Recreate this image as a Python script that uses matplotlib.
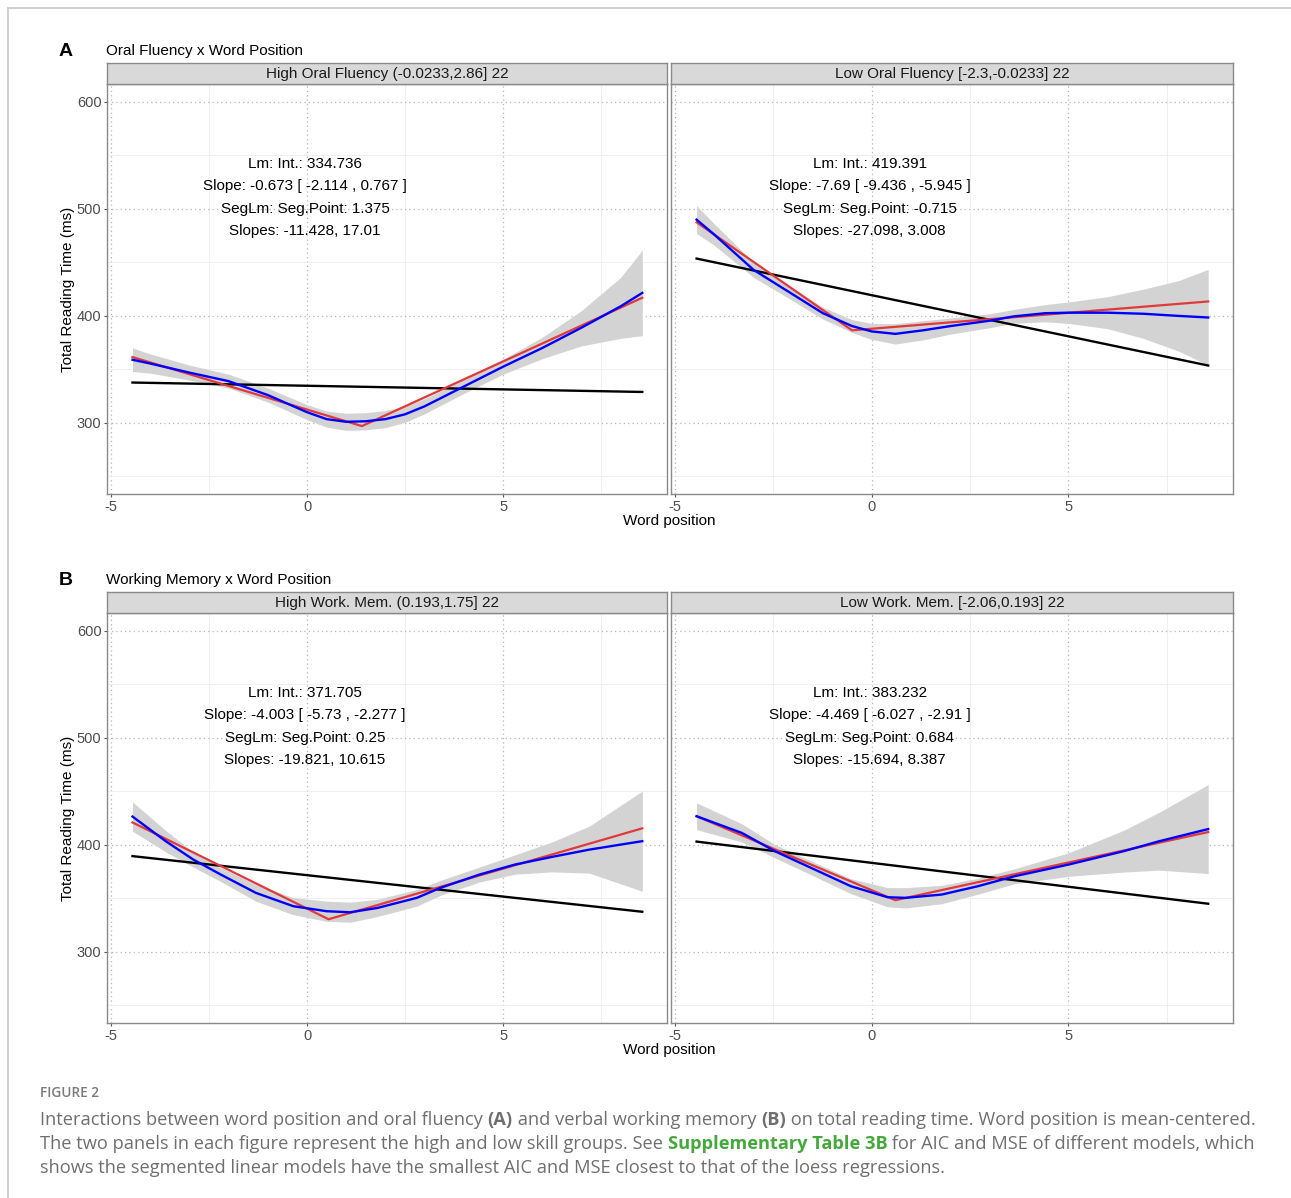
import matplotlib
matplotlib.use("Agg")
import matplotlib.pyplot as plt
from matplotlib.lines import Line2D
import numpy as np

W, H = 1291, 1198

# ---------------- data ----------------
panel_titles = ["Oral Fluency x Word Position", "Working Memory x Word Position"]
panel_letters = ["A", "B"]
strip_labels = [["High Oral Fluency (-0.0233,2.86] 22", "Low Oral Fluency [-2.3,-0.0233] 22"],
                ["High Work. Mem. (0.193,1.75] 22", "Low Work. Mem. [-2.06,0.193] 22"]]
annotations = [
    [["Lm: Int.: 334.736", "Slope: -0.673 [ -2.114 , 0.767 ]", "SegLm: Seg.Point: 1.375", "Slopes: -11.428, 17.01"],
     ["Lm: Int.: 419.391", "Slope: -7.69 [ -9.436 , -5.945 ]", "SegLm: Seg.Point: -0.715", "Slopes: -27.098, 3.008"]],
    [["Lm: Int.: 371.705", "Slope: -4.003 [ -5.73 , -2.277 ]", "SegLm: Seg.Point: 0.25", "Slopes: -19.821, 10.615"],
     ["Lm: Int.: 383.232", "Slope: -4.469 [ -6.027 , -2.91 ]", "SegLm: Seg.Point: 0.684", "Slopes: -15.694, 8.387"]],
]

# linear model endpoints
lm_x = [-4.45, 8.55]
lm_y_A_high = [337.7, 328.9]
lm_y_A_low = [453.6, 353.6]
lm_y_B_high = [389.5, 337.5]
lm_y_B_low = [403.1, 345.0]

# segmented model vertices
seg_x_A_high = [-4.45, 1.4, 8.55]
seg_y_A_high = [361.5, 297.0, 417.0]
seg_x_A_low = [-4.45, -0.5, 8.55]
seg_y_A_low = [487.5, 386.5, 413.5]
seg_x_B_high = [-4.45, 0.55, 8.55]
seg_y_B_high = [421.0, 330.5, 415.5]
seg_x_B_low = [-4.45, 0.6, 8.55]
seg_y_B_low = [426.8, 348.3, 412.0]

# loess fits and confidence bands
lo_x_A_high = [-4.45, -4.0, -3.0, -2.0, -1.0, 0.0, 0.5, 1.0, 1.5, 2.0, 2.5, 3.0, 4.0, 5.0, 6.0, 7.0, 8.0, 8.55]
lo_y_A_high = [359, 355.5, 347, 339, 326, 310, 303.5, 301, 301.5, 303.5, 308, 315.5, 334, 352.5, 370, 389, 409, 421.5]
ci_lo_A_high = [348, 346.5, 340, 332.5, 319.5, 303, 296, 293, 293.5, 295.5, 300.5, 308.5, 327.5, 345.5, 360, 372, 379, 381.5]
ci_hi_A_high = [370, 364.5, 354, 345.5, 332.5, 317, 311, 309, 309.5, 311.5, 315.5, 322.5, 340.5, 359.5, 380, 405, 436, 461.5]

lo_x_A_low = [-4.45, -4.0, -3.0, -2.0, -1.24, -0.5, 0.0, 0.6, 1.3, 2.0, 2.5, 3.0, 3.6, 4.4, 5.0, 6.0, 6.9, 7.8, 8.55]
lo_y_A_low = [490, 476, 443, 420, 402.5, 390.5, 385.5, 383.2, 386.5, 390.5, 393, 395.5, 399.5, 402.5, 403, 403, 402, 400, 398.5]
ci_lo_A_low = [477, 466, 436, 414, 397, 384.5, 378, 373.7, 377.5, 383, 386, 389, 393, 394.5, 393, 388, 379, 367, 354]
ci_hi_A_low = [503, 486, 450, 426, 408, 396.5, 393, 392.7, 395.5, 398, 400, 402, 406, 410.5, 413, 418, 425, 433, 443.5]

lo_x_B_high = [-4.45, -3.6, -2.9, -2.2, -1.3, -0.35, 0.5, 1.1, 1.8, 2.8, 3.4, 4.4, 5.3, 6.25, 7.2, 8.55]
lo_y_B_high = [426.5, 403.4, 386.3, 372.3, 355.1, 342.7, 338, 337, 341.1, 350.5, 359.8, 372.3, 381.6, 388.8, 395.6, 403.5]
ci_lo_B_high = [412.8, 393.4, 379.3, 365.8, 347.3, 334.7, 328.6, 327.6, 333.1, 342.7, 352.8, 365.3, 372.6, 374.8, 373.6, 356.7]
ci_hi_B_high = [440.2, 413.4, 393.3, 378.8, 362.9, 350.7, 347.4, 346.4, 349.1, 358.3, 366.8, 379.3, 390.6, 402.8, 417.6, 450.3]

lo_x_B_low = [-4.45, -3.3, -2.46, -1.45, -0.53, 0.4, 0.86, 1.78, 2.7, 3.63, 5.0, 6.4, 7.3, 8.55]
lo_y_B_low = [426.8, 411.2, 394.1, 377, 361.4, 351.1, 350.5, 353.6, 361.4, 370.7, 381.6, 394.1, 403.4, 414.8]
ci_lo_B_low = [414.3, 402.7, 387.9, 370.5, 354.4, 342.1, 341.0, 345.0, 353.9, 363.7, 370.6, 374.6, 376.4, 373.2]
ci_hi_B_low = [439.3, 419.7, 400.3, 383.5, 368.4, 360.1, 360.0, 362.2, 368.9, 377.7, 392.6, 413.6, 430.4, 456.4]

panels = [
    [dict(lm=lm_y_A_high, sx=seg_x_A_high, sy=seg_y_A_high, lx=lo_x_A_high, ly=lo_y_A_high, clo=ci_lo_A_high, chi=ci_hi_A_high),
     dict(lm=lm_y_A_low, sx=seg_x_A_low, sy=seg_y_A_low, lx=lo_x_A_low, ly=lo_y_A_low, clo=ci_lo_A_low, chi=ci_hi_A_low)],
    [dict(lm=lm_y_B_high, sx=seg_x_B_high, sy=seg_y_B_high, lx=lo_x_B_high, ly=lo_y_B_high, clo=ci_lo_B_high, chi=ci_hi_B_high),
     dict(lm=lm_y_B_low, sx=seg_x_B_low, sy=seg_y_B_low, lx=lo_x_B_low, ly=lo_y_B_low, clo=ci_lo_B_low, chi=ci_hi_B_low)],
]

x_ticks = [-5, 0, 5]
y_ticks = [300, 400, 500, 600]
x_minor = [-2.5, 2.5, 7.5]
y_minor = [250, 350, 450, 550]

# ---------------- style ----------------
plt.rcParams['font.family'] = ['Liberation Sans', 'DejaVu Sans']
plt.rcParams['axes.unicode_minus'] = False
RED = '#e0393b'
BLUE = '#0000ff'
BAND = '#d3d3d3'
BORDER = '#8a8a8a'

fig = plt.figure(figsize=(W / 100, H / 100), dpi=100)


def fbox(x0, y0, x1, y1):
    return [x0 / W, 1 - y1 / H, (x1 - x0) / W, (y1 - y0) / H]


# outer frame (top & left edges)
fig.add_artist(Line2D([8 / W, 1.0], [1 - 7.5 / H, 1 - 7.5 / H], color='#cccccc', lw=1.3, transform=fig.transFigure))
fig.add_artist(Line2D([8 / W, 8 / W], [0, 1 - 7.5 / H], color='#cccccc', lw=1.3, transform=fig.transFigure))

col_x = [(107, 667), (671, 1233)]
row_y = [(63, 84, 494), (592, 613, 1023)]
title_y = [51, 580]
xlab_y = [521, 1050]
ann_y = [542, 521.2, 500.2, 479.4]

for r in range(2):
    st, pt, pb = row_y[r]
    fig.text(59 / W, 1 - title_y[r] / H, panel_letters[r], fontsize=14, fontweight='bold', va='center', ha='left')
    fig.text(106 / W, 1 - title_y[r] / H, panel_titles[r], fontsize=11, va='center', ha='left')
    for c in range(2):
        x0, x1 = col_x[c]
        d = panels[r][c]
        ax = fig.add_axes(fbox(x0, pt, x1, pb))
        ax.set_xlim(-5.1, 9.18)
        ax.set_ylim(233.5, 616.8)
        ax.set_xticks(x_ticks)
        ax.set_yticks(y_ticks)
        ax.set_xticks(x_minor, minor=True)
        ax.set_yticks(y_minor, minor=True)
        ax.grid(which='major', color='#b5b5b5', lw=0.9, ls=(0, (1, 2.5)))
        ax.grid(which='minor', color='#ececec', lw=0.6, ls='-')
        ax.tick_params(which='minor', length=0)
        ax.tick_params(which='major', length=2.5, width=0.8, color='#555555', labelsize=10.5,
                       labelcolor='#4d4d4d', pad=1.5)
        ax.set_axisbelow(True)
        for s in ax.spines.values():
            s.set_color(BORDER)
            s.set_linewidth(1.0)
        if c == 1:
            ax.tick_params(axis='y', labelleft=False, length=0)
        ax.fill_between(d['lx'], d['clo'], d['chi'], color=BAND, lw=0, zorder=2)
        ax.plot(lm_x, d['lm'], color='black', lw=1.7, zorder=3)
        ax.plot(d['sx'], d['sy'], color=RED, lw=1.6, zorder=4)
        ax.plot(d['lx'], d['ly'], color=BLUE, lw=1.7, zorder=5, solid_joinstyle='round')
        for i, line in enumerate(annotations[r][c]):
            ax.text(-0.05, ann_y[i], line, fontsize=11, ha='center', va='center', color='black', zorder=6)
        if c == 0:
            ax.set_ylabel('Total Reading Time (ms)', fontsize=11, labelpad=1)
        # strip
        sax = fig.add_axes(fbox(x0, st, x1, pt))
        sax.set_facecolor('#d9d9d9')
        sax.set_xticks([])
        sax.set_yticks([])
        for s in sax.spines.values():
            s.set_color(BORDER)
            s.set_linewidth(1.0)
        sax.text(0.5, 0.47, strip_labels[r][c], fontsize=11, ha='center', va='center', color='#1a1a1a',
                 transform=sax.transAxes)
    fig.text(669 / W, 1 - xlab_y[r] / H, 'Word position', fontsize=11, ha='center', va='center')

# ---------------- caption ----------------
CAP = ['Open Sans', 'DejaVu Sans']
GREY = '#6f6f6f'
fig.text(40 / W, 1 - 1093 / H, 'FIGURE 2', fontsize=9.8, fontweight='semibold', color='#7a7a7a',
         family=CAP, va='center', ha='left')

cap_lines = [
    [("Interactions between word position and oral fluency ", 'normal', GREY), ("(A)", 'bold', GREY),
     (" and verbal working memory ", 'normal', GREY), ("(B)", 'bold', GREY),
     (" on total reading time. Word position is mean-centered.", 'normal', GREY)],
    [("The two panels in each figure represent the high and low skill groups. See ", 'normal', GREY),
     ("Supplementary Table 3B", 'bold', '#45a83c'),
     (" for AIC and MSE of different models, which", 'normal', GREY)],
    [("shows the segmented linear models have the smallest AIC and MSE closest to that of the loess regressions.",
      'normal', GREY)],
]
cap_y = [1120, 1144, 1168]
renderer = fig.canvas.get_renderer()
for ly, runs in zip(cap_y, cap_lines):
    x = 40.0
    for txt, wgt, col in runs:
        t = fig.text(x / W, 1 - ly / H, txt, fontsize=13.15, fontweight=wgt, color=col, family=CAP,
                     va='center', ha='left')
        bb = t.get_window_extent(renderer)
        x += bb.width

fig.savefig('out.png', dpi=100)
